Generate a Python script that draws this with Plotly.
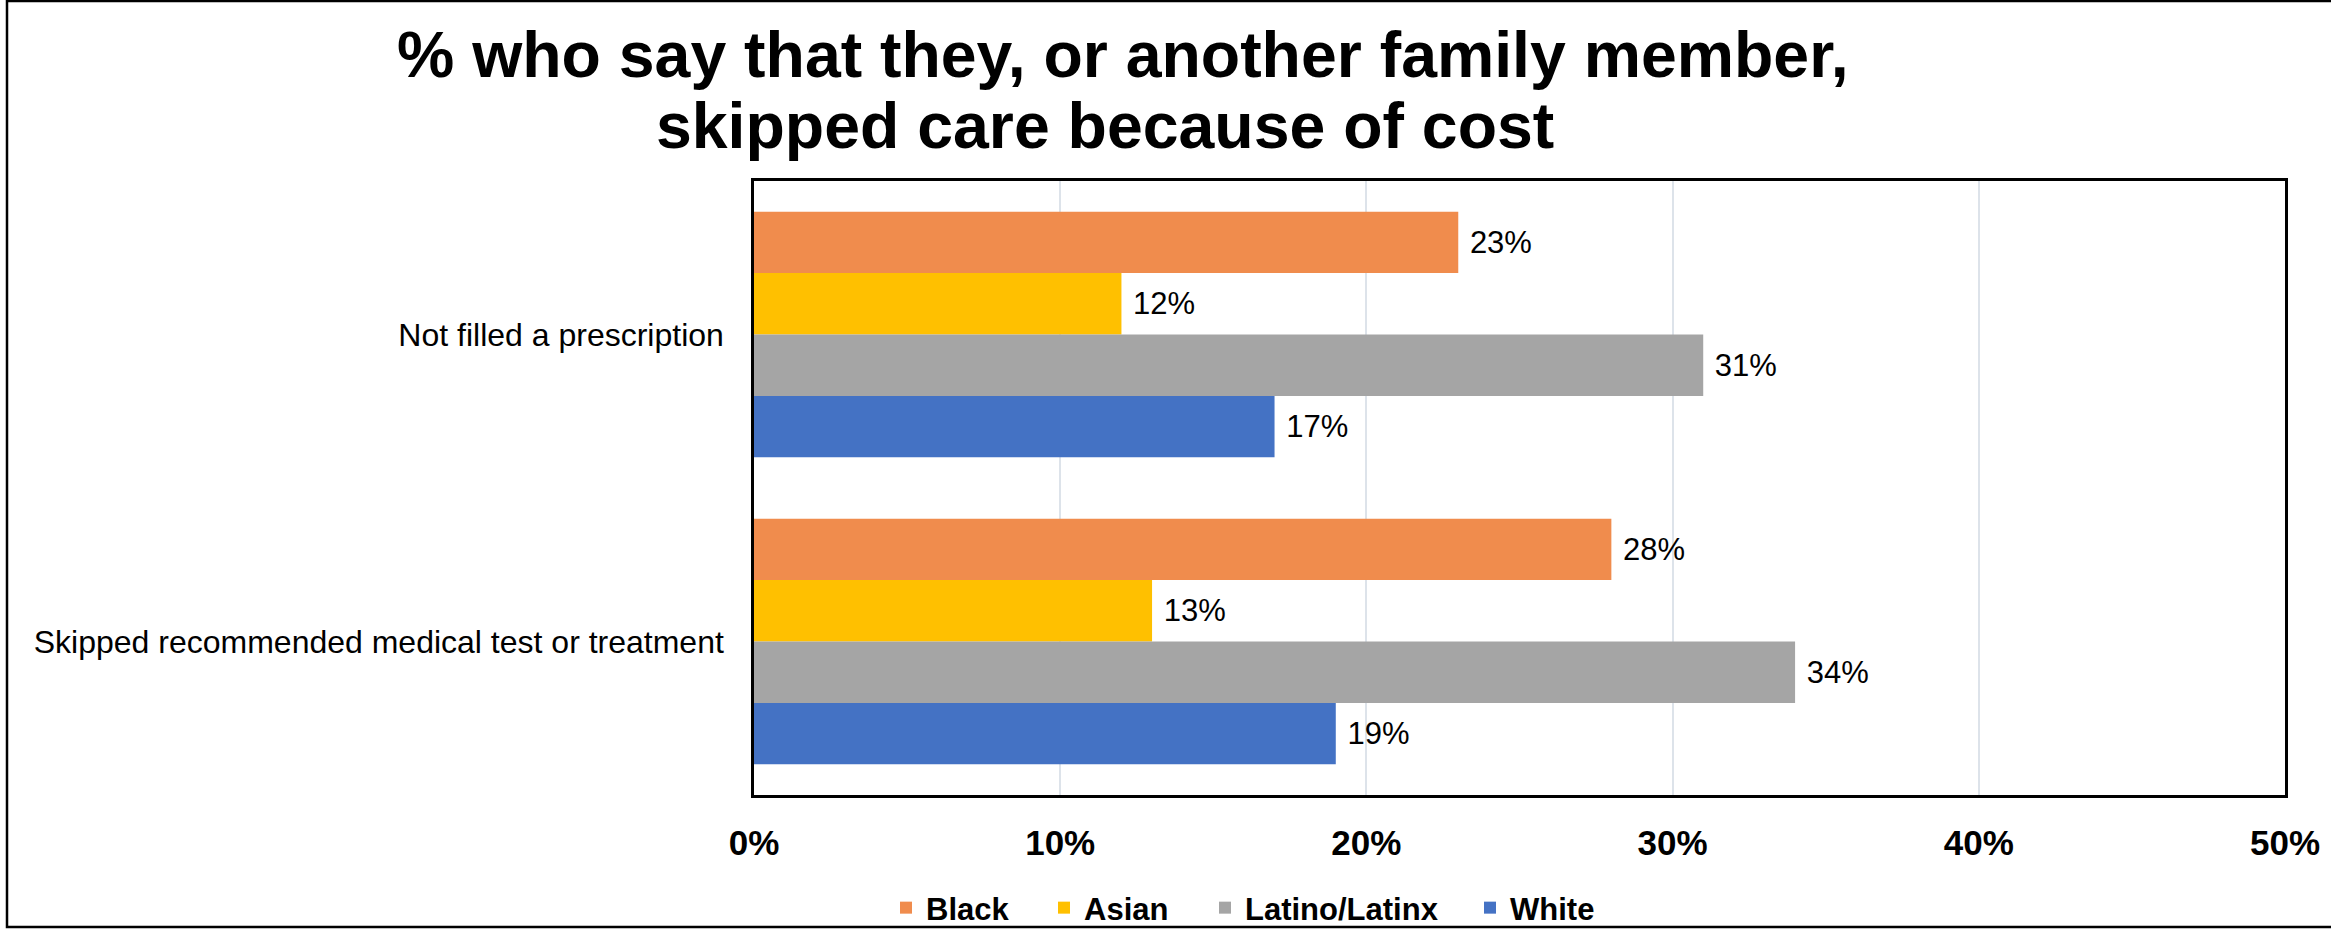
import plotly.graph_objects as go

categories = ["Not filled a prescription", "Skipped recommended medical test or treatment"]
series_names = ["Black", "Asian", "Latino/Latinx", "White"]
black_vals = [23, 28]
asian_vals = [12, 13]
latino_vals = [31, 34]
white_vals = [17, 19]
x_ticks = [0, 10, 20, 30, 40, 50]
x_tick_labels = ["0%", "10%", "20%", "30%", "40%", "50%"]
title_lines = ["% who say that they, or another family member,", "skipped care because of cost"]

colors = ["#F08C4D", "#FFC000", "#A5A5A5", "#4472C4"]
legend_widths = [113, 116, 220, 100]
FONT = "Liberation Sans, Arial, sans-serif"

W, H = 2331, 930
L, R, T, B = 754, 46, 181, 135
pw = W - L - R
ph = H - T - B


def px_x(x):
    return (x - L) / pw


def px_y(y):
    return (H - B - y) / ph


fig = go.Figure()
for name, vals, col, lw in zip(series_names, [black_vals, asian_vals, latino_vals, white_vals], colors, legend_widths):
    fig.add_trace(go.Bar(
        y=categories, x=vals, name=name, orientation="h",
        marker=dict(color=col, line=dict(width=0)),
        text=[f"\u00a0{v}%" for v in vals], textposition="outside",
        textfont=dict(family=FONT, size=31, color="#000000"),
        cliponaxis=False, legendwidth=lw,
    ))

fig.update_layout(
    width=W, height=H,
    margin=dict(l=L, r=R, t=T, b=B, autoexpand=False),
    paper_bgcolor="white", plot_bgcolor="white",
    barmode="group", bargap=0.2, bargroupgap=0,
    showlegend=True,
    legend=dict(orientation="h", xref="container", yref="container",
                x=886 / W, xanchor="left", y=(H - 908) / H, yanchor="middle",
                font=dict(family=FONT, size=31, color="#000000", weight="bold"),
                traceorder="normal", bgcolor="rgba(0,0,0,0)"),
    xaxis=dict(range=[0, 50], tickvals=x_ticks, ticktext=x_tick_labels,
               showgrid=True, gridcolor="#DDE3EA", gridwidth=1.5,
               zeroline=False, showline=True, linecolor="#000000", linewidth=2.5, mirror=True,
               ticks="", ticklabelstandoff=15,
               tickfont=dict(family=FONT, size=35, color="#000000", weight="bold")),
    yaxis=dict(autorange="reversed", showgrid=False, zeroline=False,
               showline=True, linecolor="#000000", linewidth=2.5, mirror=True,
               ticks="", ticklabelstandoff=21,
               tickfont=dict(family=FONT, size=32, color="#000000")),
    annotations=[
        dict(text=title_lines[0], xref="paper", yref="paper", x=px_x(1123), y=px_y(55),
             xanchor="center", yanchor="middle", showarrow=False,
             font=dict(family=FONT, size=64.4, color="#000000", weight="bold")),
        dict(text=title_lines[1], xref="paper", yref="paper", x=px_x(1105), y=px_y(126),
             xanchor="center", yanchor="middle", showarrow=False,
             font=dict(family=FONT, size=64.4, color="#000000", weight="bold")),
    ],
    shapes=[dict(type="rect", xref="paper", yref="paper",
                 x0=px_x(7), x1=px_x(2345), y0=px_y(927), y1=px_y(1),
                 line=dict(color="#000000", width=2.5), layer="below")],
)

fig.write_html("out.html", config={"displayModeBar": False},
               post_script="document.body.style.margin='0';document.body.style.overflow='hidden';")
